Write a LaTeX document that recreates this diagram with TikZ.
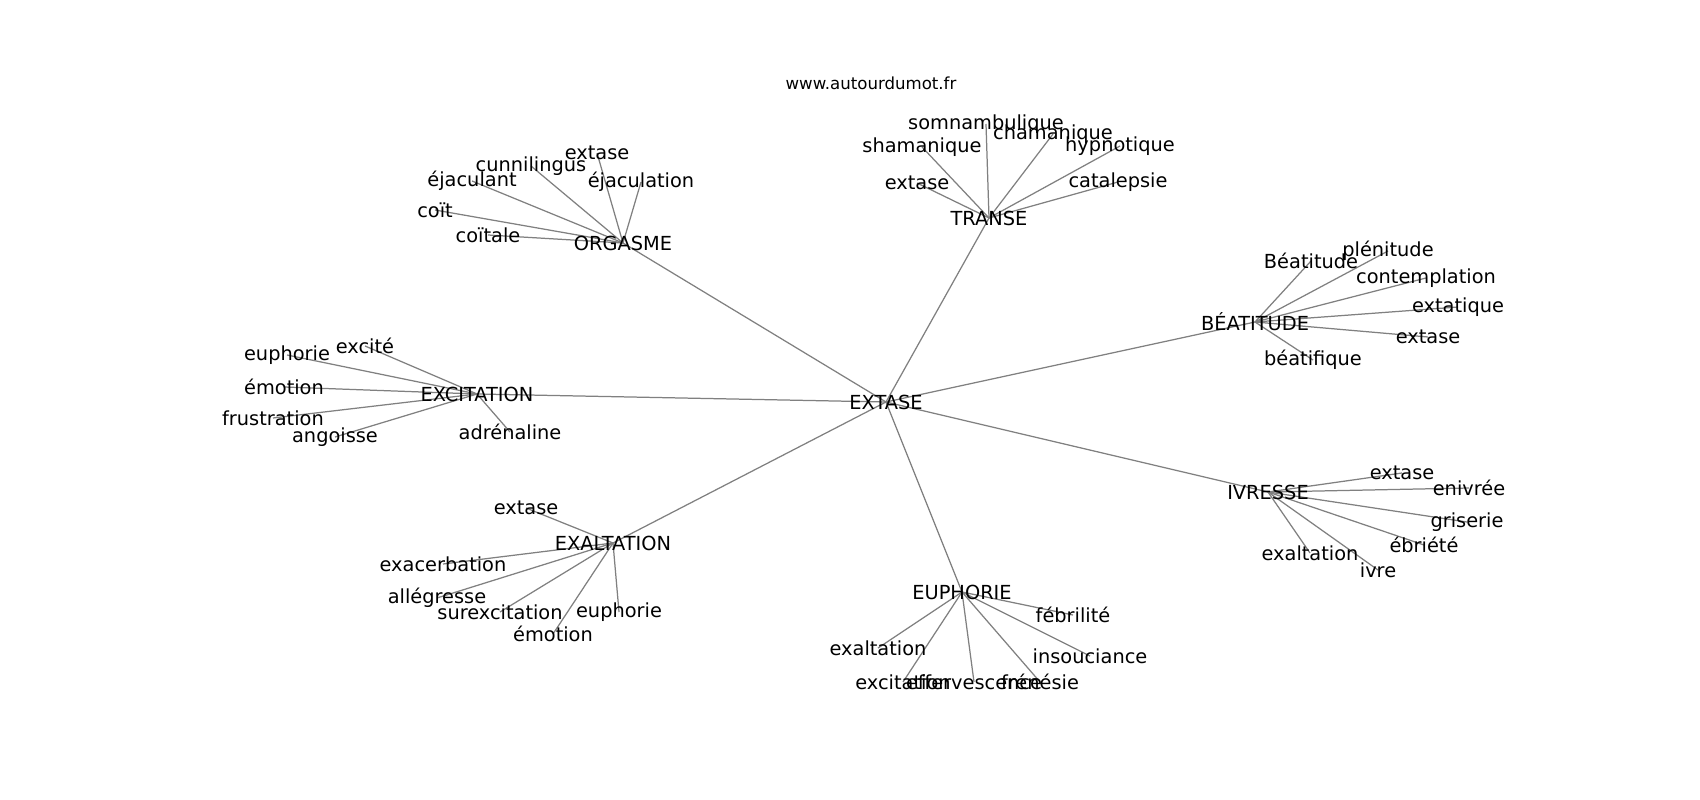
\documentclass[tikz,border=0pt]{standalone}
\usepackage{fontspec}
\setmainfont{DejaVu Sans}
\usetikzlibrary{backgrounds}

\begin{document}
\begin{tikzpicture}[x=0.0254cm,y=-0.0254cm,
    word/.style={inner sep=0pt,font=\fontsize{14}{17}\selectfont},
    edge/.style={gray,line width=0.9pt}]
          \useasboundingbox (0,0) rectangle (1700,800);
          \node[inner sep=0pt,font=\fontsize{12}{14}\selectfont] (site) at (871,83) {www.autourdumot.fr};
          % centre
          \node[word] (extase) at (886,402) {EXTASE};
          % orgasme
          \node[word] (orgasme) at (623,243) {ORGASME};
          \node[word] (o1) at (597,153) {extase};
          \node[word] (o2) at (531,166) {cunnilingus};
          \node[word] (o3) at (472,181) {éjaculant};
          \node[word] (o4) at (641,182) {éjaculation};
          \node[word] (o5) at (435,210) {coït};
          \node[word] (o6) at (488,235) {coïtale};
          % transe
          \node[word] (transe) at (989,218) {TRANSE};
          \node[word] (t1) at (986,124) {somnambulique};
          \node[word] (t2) at (1053,134) {chamanique};
          \node[word] (t3) at (922,147) {shamanique};
          \node[word] (t4) at (1120,146) {hypnotique};
          \node[word] (t5) at (917,183) {extase};
          \node[word] (t6) at (1118,182) {catalepsie};
          % beatitude
          \node[word] (beatitude) at (1255,322) {BÉATITUDE};
          \node[word] (b1) at (1311,261) {Béatitude};
          \node[word] (b2) at (1388,251) {plénitude};
          \node[word] (b3) at (1426,278) {contemplation};
          \node[word] (b4) at (1458,307) {extatique};
          \node[word] (b5) at (1428,337) {extase};
          \node[word] (b6) at (1313,360) {béatifique};
          % excitation
          \node[word] (excitation) at (477,394) {EXCITATION};
          \node[word] (c1) at (365,346) {excité};
          \node[word] (c2) at (287,355) {euphorie};
          \node[word] (c3) at (284,387) {émotion};
          \node[word] (c4) at (273,418) {frustration};
          \node[word] (c5) at (335,437) {angoisse};
          \node[word] (c6) at (510,432) {adrénaline};
          % exaltation
          \node[word] (exaltation) at (613,543) {EXALTATION};
          \node[word] (a1) at (526,508) {extase};
          \node[word] (a2) at (443,564) {exacerbation};
          \node[word] (a3) at (437,598) {allégresse};
          \node[word] (a4) at (500,612) {surexcitation};
          \node[word] (a5) at (619,612) {euphorie};
          \node[word] (a6) at (553,634) {émotion};
          % euphorie
          \node[word] (euphorie) at (962,592) {EUPHORIE};
          \node[word] (e1) at (1073,615) {fébrilité};
          \node[word] (e2) at (878,648) {exaltation};
          \node[word] (e3) at (1090,656) {insouciance};
          \node[word] (e4) at (903,682) {excitation};
          \node[word] (e5) at (974,682) {effervescence};
          \node[word] (e6) at (1040,682) {frénésie};
          % ivresse
          \node[word] (ivresse) at (1268,492) {IVRESSE};
          \node[word] (i1) at (1402,473) {extase};
          \node[word] (i2) at (1469,488) {enivrée};
          \node[word] (i3) at (1467,522) {griserie};
          \node[word] (i4) at (1424,545) {ébriété};
          \node[word] (i5) at (1310,553) {exaltation};
          \node[word] (i6) at (1378,570) {ivre};
          \begin{scope}[on background layer]
            \foreach \hub in {orgasme,transe,beatitude,excitation,exaltation,euphorie,ivresse}
              \draw[edge] (extase.center) -- (\hub.center);
            \foreach \hub/\p in {orgasme/o,transe/t,beatitude/b,excitation/c,exaltation/a,euphorie/e,ivresse/i}
              \foreach \k in {1,...,6}
                \draw[edge] (\hub.center) -- (\p\k.center);
          \end{scope}
        \end{tikzpicture}
\end{document}
